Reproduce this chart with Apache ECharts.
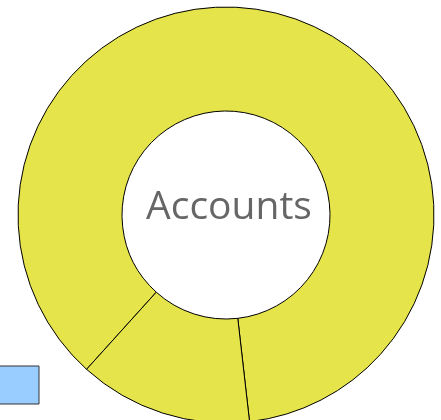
<!DOCTYPE html>
<html>
<head>
<meta charset="utf-8">
<script src="https://cdn.jsdelivr.net/npm/echarts@6/dist/echarts.min.js"></script>
<style>
html, body { margin: 0; padding: 0; background: #fff; }
#main { width: 441px; height: 420px; }
</style>
</head>
<body>
<div id="main"></div>
<script>
var names = ['Accounts A', 'Accounts B'];
var values = [311.4, 48.6];
var sliceColor = '#e6e44b';

var myChart = echarts.init(document.getElementById('main'));

var pieData = [];
for (var i = 0; i < names.length; i++) {
	pieData.push({ name: names[i], value: values[i] });
}

var option = {
	animation: false,
	title: {
		text: 'Accounts',
		left: 224,
		top: 203,
		textAlign: 'center',
		textVerticalAlign: 'middle',
		textStyle: {
			fontFamily: 'Open Sans',
			fontSize: 39,
			fontWeight: 'normal',
			color: '#666666'
		}
	},
	graphic: [{
		type: 'rect',
		shape: { x: -1, y: 366, width: 40, height: 38 },
		style: { fill: '#99ccff', stroke: '#333333', lineWidth: 1 }
	}],
	series: [{
		type: 'pie',
		center: [226, 215],
		radius: [104, 208],
		startAngle: 227.9,
		clockwise: true,
		label: { show: false },
		labelLine: { show: false },
		emphasis: { disabled: true },
		itemStyle: {
			color: sliceColor,
			borderColor: '#000',
			borderWidth: 1
		},
		data: pieData
	}]
};

myChart.setOption(option);
</script>
</body>
</html>
